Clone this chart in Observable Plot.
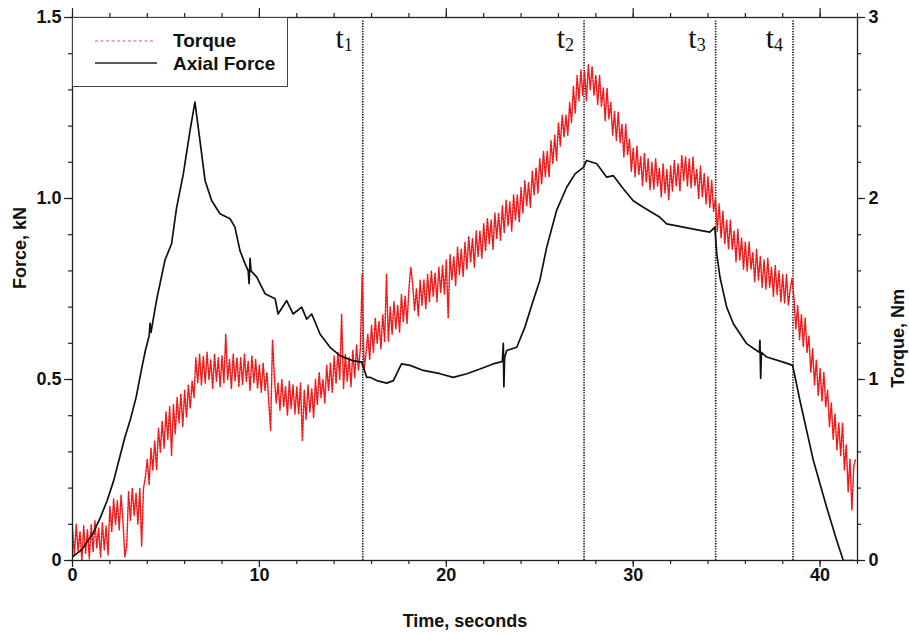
<!DOCTYPE html>
<html>
<head>
<meta charset="utf-8">
<script src="https://cdn.jsdelivr.net/npm/d3@7"></script>
<script src="https://cdn.jsdelivr.net/npm/@observablehq/plot@0.6"></script>
<style>
  html, body { margin: 0; padding: 0; background: #fff; }
  #chart { width: 909px; height: 637px; }
</style>
</head>
<body>
<div id="chart"></div>
<script>
// ---- Data ----
const xMajorTicks = [0, 10, 20, 30, 40];
const yMajorTicks = [0, 0.5, 1.0, 1.5];
const eventTimes = [15.53, 27.37, 34.41, 38.55];
const eventLabels = ["1", "2", "3", "4"];

// Axial force, kN : [time s, force kN]
const forceSeries = [
  [0,0.01],[0.5,0.03],[1.1,0.075],[1.5,0.12],[1.85,0.165],[2.2,0.22],[2.55,0.29],[2.8,0.34],
  [3.1,0.39],[3.4,0.45],[3.7,0.53],[3.9,0.58],[4.1,0.62],[4.15,0.655],[4.2,0.63],[4.5,0.72],
  [4.95,0.83],[5.3,0.875],[5.57,0.975],[5.93,1.068],[6.29,1.188],[6.55,1.266],[6.82,1.16],
  [7.09,1.05],[7.45,0.994],[7.89,0.958],[8.43,0.944],[8.69,0.921],[8.96,0.856],[9.23,0.82],
  [9.4,0.80],[9.45,0.765],[9.5,0.835],[9.55,0.80],[9.86,0.783],[10.3,0.737],[10.84,0.723],
  [11.0,0.681],[11.46,0.718],[11.8,0.681],[12.26,0.70],[12.53,0.667],[12.8,0.681],[13.24,0.626],
  [13.78,0.589],[14.31,0.566],[15.0,0.552],[15.47,0.548],[15.74,0.506],[15.92,0.506],[16.28,0.497],
  [16.81,0.49],[17.17,0.497],[17.6,0.543],[18.06,0.539],[18.77,0.525],[19.66,0.516],[20.37,0.506],
  [21.1,0.516],[21.8,0.529],[22.5,0.543],[22.87,0.548],[23.0,0.55],[23.05,0.60],[23.08,0.48],
  [23.12,0.56],[23.23,0.58],[23.77,0.589],[24.2,0.644],[24.65,0.718],[25.0,0.773],[25.37,0.865],
  [25.9,0.967],[26.44,1.031],[26.89,1.068],[27.33,1.086],[27.51,1.105],[28.05,1.096],[28.58,1.059],
  [28.94,1.063],[29.47,1.027],[30.0,0.994],[30.54,0.976],[31.43,0.948],[31.79,0.93],[32.68,0.921],
  [33.57,0.912],[34.1,0.907],[34.37,0.921],[34.47,0.847],[34.64,0.783],[35.0,0.70],[35.36,0.654],
  [36.07,0.599],[36.6,0.58],[36.75,0.575],[36.78,0.608],[36.82,0.503],[36.86,0.575],[37.14,0.562],
  [38.03,0.548],[38.53,0.539],[38.92,0.442],[39.64,0.276],[40.35,0.147],[40.89,0.055],[41.24,0.0],[41.8,0.0]
];

// Torque, Nm, sampled every 0.1 s starting at 0 s (one row per second)
const torqueStart = 0;
const torqueStep = 0.1;
const torqueNm = [
  0.18,0.03,0.2,0.05,0.16,0.0,0.19,0.04,0.17,0.01,
  0.2,0.05,0.22,0.07,0.18,0.02,0.21,0.06,0.19,0.03,
  0.3,0.16,0.34,0.2,0.33,0.17,0.36,0.22,0.02,0.08,
  0.38,0.22,0.4,0.25,0.37,0.2,0.4,0.08,0.4,0.46,
  0.56,0.42,0.62,0.5,0.66,0.5,0.73,0.6,0.77,0.62,
  0.82,0.67,0.85,0.58,0.86,0.7,0.9,0.76,0.92,0.74,
  0.94,0.79,0.97,0.84,0.99,0.9,1.12,0.98,1.14,0.97,
  1.13,0.98,1.15,1.0,1.11,0.95,1.14,0.99,1.12,0.96,
  1.13,0.98,1.25,1.0,1.11,0.95,1.14,0.99,1.12,0.96,
  1.12,0.97,1.14,0.99,1.1,0.94,1.13,0.98,1.11,0.95,
  1.08,0.93,1.09,0.94,1.04,0.88,0.72,1.22,1.02,0.87,
  0.98,0.83,1.0,0.85,0.96,0.8,0.99,0.84,0.97,0.81,
  0.96,0.81,0.98,0.66,0.94,0.78,0.97,0.82,0.95,0.79,
  1.0,0.86,1.04,0.9,1.0,0.87,1.08,0.94,1.09,0.93,
  1.13,0.98,1.15,1.0,1.36,0.95,1.14,0.99,1.12,0.96,
  1.16,1.01,1.19,1.05,1.17,1.58,1.06,1.14,1.25,1.11,
  1.3,1.15,1.34,1.2,1.32,1.17,1.36,1.21,1.58,1.21,
  1.4,1.25,1.43,1.28,1.41,1.26,1.47,1.32,1.46,1.31,
  1.5,1.62,1.53,1.38,1.5,1.35,1.55,1.41,1.55,1.39,
  1.58,1.43,1.6,1.46,1.59,1.43,1.62,1.48,1.63,1.47,
  1.66,1.34,1.69,1.55,1.68,1.52,1.73,1.58,1.72,1.57,
  1.76,1.61,1.79,1.65,1.78,1.62,1.82,1.68,1.82,1.67,
  1.86,1.71,1.89,1.75,1.88,1.72,1.92,1.78,1.92,1.77,
  1.96,1.81,1.99,1.85,1.98,1.82,2.02,1.88,2.02,1.87,
  2.06,1.92,2.1,1.96,2.09,1.95,2.15,2.02,2.17,2.03,
  2.22,2.08,2.26,2.12,2.26,2.12,2.32,2.19,2.35,2.21,
  2.42,2.29,2.46,2.34,2.46,2.35,2.53,2.42,2.62,2.47,
  2.68,2.54,2.71,2.57,2.7,2.54,2.74,2.6,2.73,2.57,
  2.68,2.52,2.68,2.51,2.61,2.43,2.61,2.44,2.53,2.35,
  2.48,2.32,2.48,2.31,2.41,2.23,2.41,2.24,2.33,2.15,
  2.28,2.12,2.29,2.13,2.23,2.07,2.25,2.09,2.22,2.05,
  2.2,2.05,2.22,2.07,2.17,2.01,2.19,2.03,2.16,1.99,
  2.18,2.04,2.21,2.07,2.19,2.04,2.24,2.1,2.23,2.07,
  2.22,2.06,2.23,2.07,2.16,2.0,2.18,2.01,2.14,1.97,
  2.12,1.95,2.1,1.93,2.0,1.82,1.97,1.78,1.93,1.75,
  1.88,1.72,1.88,1.72,1.82,1.65,1.83,1.66,1.78,1.61,
  1.76,1.6,1.76,1.61,1.7,1.54,1.72,1.55,1.68,1.51,
  1.66,1.5,1.67,1.51,1.62,1.46,1.63,1.47,1.6,1.43,
  1.58,1.42,1.58,1.41,1.5,1.56,1.45,1.28,1.41,1.22,
  1.36,1.18,1.34,1.15,1.24,1.04,1.17,0.97,1.11,0.91,
  1.06,0.88,1.04,0.85,0.94,0.74,0.87,0.67,0.81,0.61,
  0.76,0.58,0.76,0.5,0.64,0.38,0.56,0.28,0.52,0.56
];

// ---- Build tables ----
const force = forceSeries.map(([t, f]) => ({t, f}));
const torque = torqueNm.map((v, i) => ({t: torqueStart + i * torqueStep, nm: v}));
const events = eventTimes.map((t, i) => ({t, n: eventLabels[i]}));
const xMinor = d3.range(0, 42.01, 2);
const yMinor = d3.range(0, 1.501, 0.1);

const W = 909, H = 637, mL = 72, mR = 52, mT = 17, mB = 77;
const fw = W - mL - mR, fh = H - mT - mB;
const font = "'Liberation Sans', Arial, Helvetica, sans-serif";
const serif = "'Liberation Serif', 'Times New Roman', serif";
const axisColor = "#222";

// outward tick helpers (frame-relative)
const ticksBottom = (v, len) => Plot.tickX(v, {x: d => d, insetTop: fh - len, dy: len, stroke: axisColor, strokeWidth: 1.2});
const ticksTop = (v, len) => Plot.tickX(v, {x: d => d, insetBottom: fh - len, dy: -len, stroke: axisColor, strokeWidth: 1.2});
const ticksLeft = (v, len) => Plot.tickY(v, {y: d => d, insetRight: fw - len, dx: -len, stroke: axisColor, strokeWidth: 1.2});
const ticksRight = (v, len) => Plot.tickY(v, {y: d => d, insetLeft: fw - len, dx: len, stroke: axisColor, strokeWidth: 1.2});

const chart = Plot.plot({
  width: W,
  height: H,
  marginLeft: mL,
  marginRight: mR,
  marginTop: mT,
  marginBottom: mB,
  style: {fontFamily: font, fontWeight: "bold", fontSize: "18px", color: "#111", background: "#fff", overflow: "visible"},
  x: {domain: [0, 42], axis: null},
  y: {domain: [0, 1.5], axis: null},
  marks: [
    // ticks
    ticksBottom(xMinor, 4), ticksBottom(xMajorTicks, 7),
    ticksTop(xMinor, 4), ticksTop(xMajorTicks, 9),
    ticksLeft(yMinor, 4), ticksLeft(yMajorTicks, 8),
    ticksRight(yMinor, 4), ticksRight(yMajorTicks, 8),
    // event lines
    Plot.ruleX(events, {x: "t", y1: 0, y2: 1.49, stroke: "#111", strokeWidth: 1.6, strokeDasharray: "1.3,1.3"}),
    // torque (right axis, Nm -> scaled onto 0..1.5)
    Plot.line(torque, {x: "t", y: d => d.nm / 2, stroke: "#f01818", strokeWidth: 1.5, strokeDasharray: "2,1.3", clip: true}),
    // axial force
    Plot.line(force, {x: "t", y: "f", stroke: "#111", strokeWidth: 1.7, clip: true}),
    // tick labels
    Plot.axisX({anchor: "bottom", ticks: xMajorTicks, tickSize: 0, tickPadding: 8, label: null, fontSize: 18}),
    Plot.axisY({anchor: "left", ticks: yMajorTicks, tickSize: 0, tickPadding: 11, label: null,
      tickFormat: d => d === 0 ? "0" : d.toFixed(1), fontSize: 18}),
    Plot.axisY({anchor: "right", ticks: yMajorTicks, tickSize: 0, tickPadding: 11, label: null,
      tickFormat: d => String(d * 2), fontSize: 18}),
    Plot.frame({stroke: axisColor, strokeWidth: 1.3}),
    // axis titles
    Plot.text(["Force, kN"], {frameAnchor: "left", dx: -52, rotate: -90, text: d => d, fontSize: 18, fontWeight: "bold"}),
    Plot.text(["Torque, Nm"], {frameAnchor: "right", dx: 41, rotate: -90, text: d => d, fontSize: 18, fontWeight: "bold"}),
    Plot.text(["Time, seconds"], {frameAnchor: "bottom", dy: 66, text: d => d, fontSize: 18, fontWeight: "bold"}),
    // event labels t1..t4
    Plot.text(events, {x: "t", frameAnchor: "top", text: () => "t", dx: -19, dy: 30, textAnchor: "end", lineAnchor: "bottom",
      fontFamily: serif, fontWeight: "normal", fontSize: 30, fill: "#111"}),
    Plot.text(events, {x: "t", frameAnchor: "top", text: "n", dx: -10, dy: 33, textAnchor: "end", lineAnchor: "bottom",
      fontFamily: serif, fontWeight: "normal", fontSize: 18, fill: "#111"})
  ]
});

document.getElementById("chart").appendChild(chart);

// ---- Legend (inside plot, top-left) ----
const svg = d3.select(chart);
const lg = svg.append("g").attr("font-family", font).attr("font-weight", "bold").attr("font-size", 19)
  .attr("text-anchor", "start");
lg.append("rect").attr("x", 72.5).attr("y", 17.5).attr("width", 215).attr("height", 69)
  .attr("fill", "#fff").attr("stroke", "#444").attr("stroke-width", 1);
lg.append("line").attr("x1", 95).attr("x2", 153).attr("y1", 41).attr("y2", 41)
  .attr("stroke", "#d05a5a").attr("stroke-width", 1.2).attr("stroke-dasharray", "3,2.5");
lg.append("line").attr("x1", 95).attr("x2", 157).attr("y1", 63).attr("y2", 63)
  .attr("stroke", "#222").attr("stroke-width", 1.6);
lg.append("text").attr("x", 173).attr("y", 47).attr("fill", "#111").attr("text-anchor", "start").text("Torque");
lg.append("text").attr("x", 173).attr("y", 70).attr("fill", "#111").attr("text-anchor", "start").text("Axial Force");
</script>
</body>
</html>
